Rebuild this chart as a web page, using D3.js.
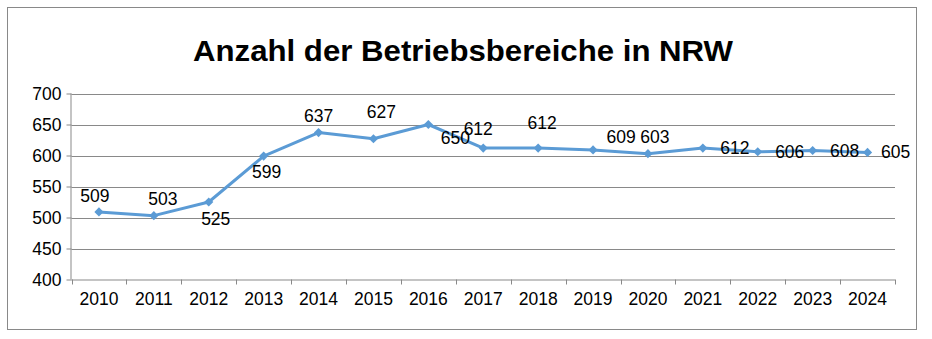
<!DOCTYPE html>
<html>
<head>
<meta charset="utf-8">
<script src="https://cdn.jsdelivr.net/npm/d3@7"></script>
<style>
  body { margin: 0; background: #fff; }
  text { font-family: "Liberation Sans", Arial, sans-serif; fill: #000; }
</style>
</head>
<body>
<div id="chart"></div>
<script>
// data
var years = ["2010", "2011", "2012", "2013", "2014", "2015", "2016", "2017",
             "2018", "2019", "2020", "2021", "2022", "2023", "2024"];
var counts = [509, 503, 525, 599, 637, 627, 650, 612, 612, 609, 603, 612, 606, 608, 605];
var yTicks = [400, 450, 500, 550, 600, 650, 700];
var title = "Anzahl der Betriebsbereiche in NRW";

// label placement (dx, dy from the point to the label baseline centre)
var labelOffsets = [
    [-4, -10], [9, -11], [7, 23], [3, 22], [0, -11], [8, -21],
    [27, 19], [-5, -13], [4, -19], [28, -7], [7, -11],
    [32, 6], [32, 6], [32, 6], [28, 6]
];

var w = 932;
var h = 339;
var margin = {left: 71.5, right: 37, top: 93.5, bottom: 59.5};

var svg = d3.select("#chart")
    .append("svg")
    .attr("width", w)
    .attr("height", h);

// outer frame
svg.append("rect")
    .attr("x", 7.5)
    .attr("y", 7.5)
    .attr("width", 909)
    .attr("height", 322)
    .attr("fill", "#fff")
    .attr("stroke", "#898989")
    .attr("stroke-width", 1);

// title
svg.append("text")
    .attr("x", 463)
    .attr("y", 61)
    .attr("text-anchor", "middle")
    .attr("font-size", "29px")
    .attr("font-weight", "bold")
    .attr("textLength", 540)
    .attr("lengthAdjust", "spacingAndGlyphs")
    .text(title);

var xScale = d3.scaleBand()
    .domain(years)
    .range([margin.left, w - margin.right]);

var yScale = d3.scaleLinear()
    .domain([400, 700])
    .range([h - margin.bottom, margin.top]);

// gridlines
svg.append("g")
    .selectAll("line")
    .data(yTicks.slice(1))
    .enter()
    .append("line")
    .attr("x1", margin.left)
    .attr("x2", w - margin.right)
    .attr("y1", function (d) { return Math.round(yScale(d)) + 0.5; })
    .attr("y2", function (d) { return Math.round(yScale(d)) + 0.5; })
    .attr("stroke", "#898989")
    .attr("stroke-width", 1);

// y axis
var yAxis = d3.axisLeft(yScale)
    .tickValues(yTicks)
    .tickSize(5)
    .tickPadding(5);

var gy = svg.append("g")
    .attr("transform", "translate(" + margin.left + ",0)")
    .call(yAxis);
gy.selectAll("text").attr("font-size", "17.5px").attr("dy", "0.36em");

// x axis with ticks on category boundaries
var xAxis = d3.axisBottom(xScale)
    .tickSize(0)
    .tickPadding(13);

var gx = svg.append("g")
    .attr("transform", "translate(0," + (h - margin.bottom) + ")")
    .call(xAxis);
gx.selectAll("text").attr("font-size", "17.5px");

gx.selectAll(".bound")
    .data(d3.range(years.length + 1))
    .enter()
    .append("line")
    .attr("class", "bound")
    .attr("x1", function (i) { return Math.round(margin.left + i * xScale.step()) + 0.5; })
    .attr("x2", function (i) { return Math.round(margin.left + i * xScale.step()) + 0.5; })
    .attr("y1", 0)
    .attr("y2", 5);

svg.selectAll(".domain, .tick line, .bound")
    .attr("stroke", "#898989");
gx.select(".domain").attr("d", "M" + margin.left + ",0.5H" + (w - margin.right));
gy.select(".domain").attr("d", "M-0.5," + yScale(700) + "V" + yScale(400));

var cx = function (d, i) { return xScale(years[i]) + xScale.bandwidth() / 2; };

// line
var line = d3.line()
    .x(function (d, i) { return cx(d, i); })
    .y(function (d) { return yScale(d); });

svg.append("path")
    .datum(counts)
    .attr("d", line)
    .attr("fill", "none")
    .attr("stroke", "#5B9BD5")
    .attr("stroke-width", 3)
    .attr("stroke-linejoin", "round");

// diamond markers (rotated squares)
svg.selectAll(".marker")
    .data(counts)
    .enter()
    .append("path")
    .attr("class", "marker")
    .attr("d", d3.symbol().type(d3.symbolSquare).size(42))
    .attr("transform", function (d, i) {
        return "translate(" + cx(d, i) + "," + yScale(d) + ") rotate(45)";
    })
    .attr("fill", "#5B9BD5");

// data labels
svg.selectAll(".lbl")
    .data(counts)
    .enter()
    .append("text")
    .attr("class", "lbl")
    .attr("x", function (d, i) { return cx(d, i) + labelOffsets[i][0]; })
    .attr("y", function (d, i) { return yScale(d) + labelOffsets[i][1]; })
    .attr("text-anchor", "middle")
    .attr("font-size", "17.5px")
    .text(function (d) { return d; });
</script>
</body>
</html>
